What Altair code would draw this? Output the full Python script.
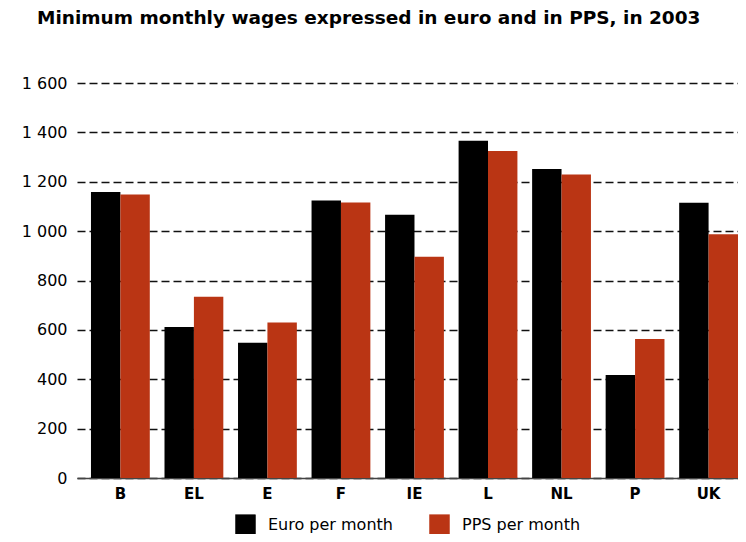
import altair as alt
import pandas as pd

countries = ["B", "EL", "E", "F", "IE", "L", "NL", "P", "UK"]
euro = [1158, 612, 548, 1124, 1066, 1366, 1252, 417, 1115]
pps = [1148, 734, 630, 1116, 896, 1325, 1229, 563, 987]
series = ["Euro per month", "PPS per month"]
colors = ["#000000", "#BA3514"]
y_ticks = [0, 200, 400, 600, 800, 1000, 1200, 1400, 1600]
title_text = "Minimum monthly wages expressed in euro and in PPS, in 2003"

rows = []
for c, e, p in zip(countries, euro, pps):
    rows.append({"country": c, "series": series[0], "value": e})
    rows.append({"country": c, "series": series[1], "value": p})
df = pd.DataFrame(rows)

FONT = "DejaVu Sans"

chart = alt.Chart(df).mark_bar().encode(
    x=alt.X(
        "country:N",
        sort=countries,
        scale=alt.Scale(paddingInner=0.2, paddingOuter=0.095, align=1),
        axis=alt.Axis(
            title=None, labelAngle=0, labelFont=FONT, labelFontWeight="bold",
            labelFontSize=15, labelColor="black", ticks=False,
            domainColor="#444", domainWidth=1.5, labelPadding=8,
        ),
    ),
    xOffset=alt.XOffset("series:N", sort=series),
    y=alt.Y(
        "value:Q",
        scale=alt.Scale(domain=[0, 1600], nice=False),
        axis=alt.Axis(
            title=None, values=y_ticks,
            labelExpr="replace(format(datum.value, ','), ',', ' ')",
            domain=False, ticks=False, grid=True, gridDash=[8, 4],
            gridColor="#111", gridWidth=1.6, labelPadding=10,
            labelFontSize=16, labelFont=FONT, labelColor="black",
        ),
    ),
    color=alt.Color(
        "series:N", sort=series,
        scale=alt.Scale(domain=series, range=colors),
        legend=alt.Legend(
            title=None, orient="none", legendX=158, legendY=431,
            direction="horizontal", symbolType="square", symbolSize=420,
            symbolStrokeWidth=0, labelFontSize=16, labelFont=FONT,
            labelColor="black", columnPadding=36, labelOffset=12, padding=0,
        ),
    ),
).properties(
    width=661, height=395,
    autosize=alt.AutoSizeParams(type="none"),
    padding={"left": 69, "top": 75, "right": 0, "bottom": 56},
    title=alt.Title(
        title_text, anchor="start", frame="group", dx=-40, offset=48,
        font=FONT, fontSize=18.5, fontWeight="bold", color="black",
    ),
).configure_view(stroke=None)

chart.save("out.html", embed_options={"renderer": "svg", "actions": False})
